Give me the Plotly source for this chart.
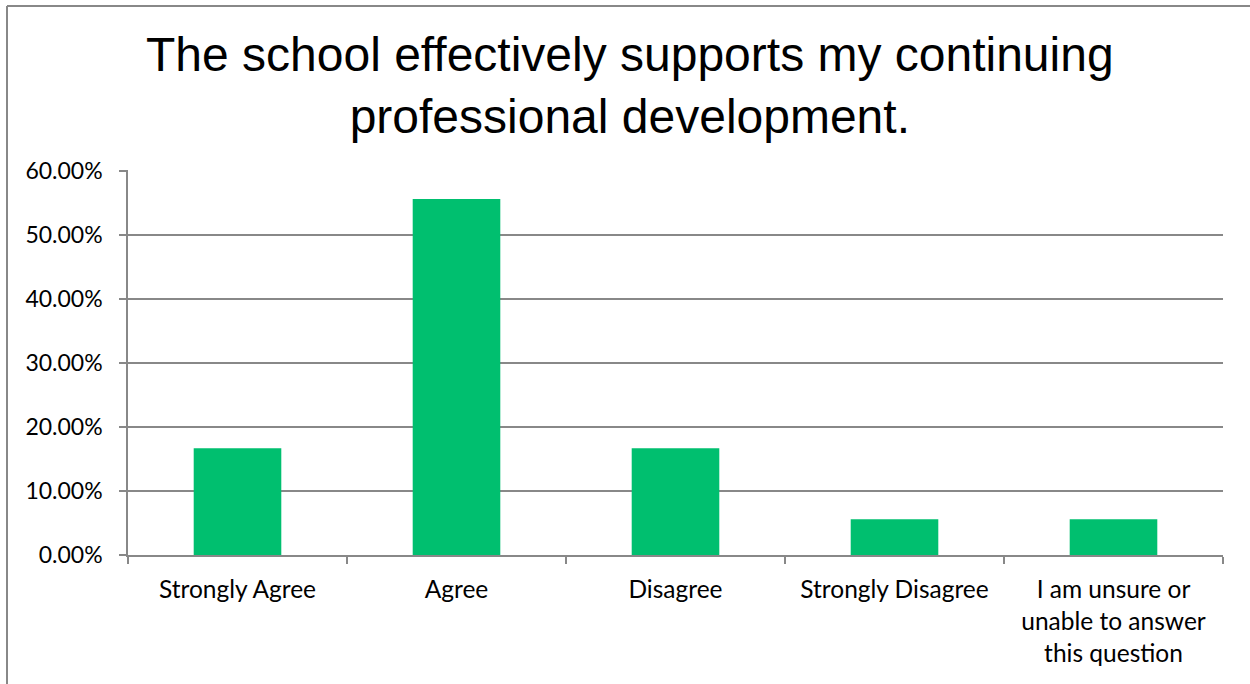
import plotly.graph_objects as go

# Survey responses (share of respondents)
categories = [
    "Strongly Agree",
    "Agree",
    "Disagree",
    "Strongly Disagree",
    "I am unsure or<br>unable to answer<br>this question",
]
shares = [0.1667, 0.5556, 0.1667, 0.0556, 0.0556]
y_ticks = [0.0, 0.1, 0.2, 0.3, 0.4, 0.5, 0.6]

BAR_GREEN = "#00BF6F"
LINE_GREY = "#888888"
LABEL_FONT = "Lato"

fig = go.Figure(
    go.Bar(
        x=categories,
        y=shares,
        width=0.4,
        marker=dict(color=BAR_GREEN, line=dict(width=0)),
        hoverinfo="x+y",
    )
)

fig.update_layout(
    width=1250,
    height=684,
    margin=dict(l=128, r=27, t=170, b=129),
    paper_bgcolor="white",
    plot_bgcolor="white",
    showlegend=False,
    font=dict(family=LABEL_FONT, size=23, color="black"),
    annotations=[
        dict(
            text="The school effectively supports my continuing<br>professional development.",
            xref="paper", yref="paper",
            x=(630 - 128) / 1095, y=(555 - 26) / 385,
            xanchor="center", yanchor="top",
            showarrow=False,
            font=dict(family="Liberation Sans, Arial", size=48, color="black"),
        )
    ],
    shapes=[
        # outer chart frame (left and top edges)
        dict(type="line", xref="paper", yref="paper",
             x0=(7 - 128) / 1095, x1=(7 - 128) / 1095,
             y0=(555 - 6) / 385, y1=(555 - 700) / 385,
             line=dict(color=LINE_GREY, width=2)),
        dict(type="line", xref="paper", yref="paper",
             x0=(7 - 128) / 1095, x1=(1260 - 128) / 1095,
             y0=(555 - 6) / 385, y1=(555 - 6) / 385,
             line=dict(color=LINE_GREY, width=2)),
    ],
)

fig.update_xaxes(
    type="category",
    showline=True, linecolor=LINE_GREY, linewidth=1.5,
    ticks="outside", tickson="boundaries", ticklen=7,
    tickcolor=LINE_GREY, tickwidth=1.5,
    ticklabelstandoff=12,
    showgrid=False,
    tickfont=dict(family=LABEL_FONT, size=24.5, color="black"),
)

fig.update_yaxes(
    range=[0, 0.6008],
    tickvals=y_ticks,
    tickformat=".2%",
    showline=True, linecolor=LINE_GREY, linewidth=1.5,
    showgrid=True, gridcolor=LINE_GREY, gridwidth=1.5,
    ticks="outside", ticklen=7, tickcolor=LINE_GREY, tickwidth=1.5,
    ticklabelstandoff=12,
    tickfont=dict(family=LABEL_FONT, size=23, color="black"),
    zeroline=False,
)

fig.write_html("out.html")
